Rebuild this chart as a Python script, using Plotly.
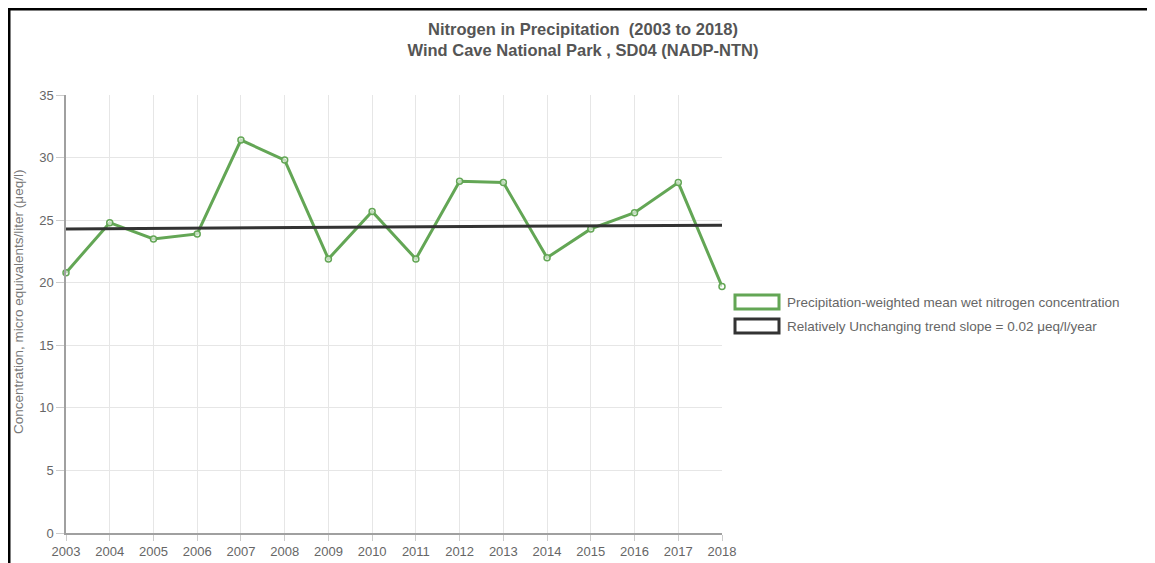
import plotly.graph_objects as go

# data
years = list(range(2003, 2019))
nitrogen = [20.8, 24.8, 23.5, 23.9, 31.4, 29.8, 21.9, 25.7, 21.9, 28.1, 28.0, 22.0, 24.3, 25.6, 28.0, 19.7]
trend_years = [2003, 2018]
trend_vals = [24.3, 24.6]

series_names = [
    "Precipitation-weighted mean wet nitrogen concentration",
    "Relatively Unchanging trend slope = 0.02 \u03bceq/l/year",
]

GREEN = "#63a655"
DARK = "#333333"
GREY_TXT = "#666666"
FONT = "Liberation Sans, Arial, sans-serif"

# page body adds an 8px margin, so the figure is a bit smaller than the window
OFF = 8
W, H = 1155 - OFF, 563 - OFF
L, R, T, B = 66 - OFF, 722 - OFF, 95 - OFF, 533 - OFF


def px_x(p):
    return (p - L) / (R - L)


def px_y(p):
    return (B - p) / (B - T)


fig = go.Figure()

fig.add_trace(go.Scatter(
    x=years, y=nitrogen, mode="lines+markers", name=series_names[0],
    line=dict(color=GREEN, width=3),
    marker=dict(size=6, color="rgba(255,255,255,0.6)", line=dict(color=GREEN, width=1.5)),
    cliponaxis=False, showlegend=False,
))
fig.add_trace(go.Scatter(
    x=trend_years, y=trend_vals, mode="lines", name=series_names[1],
    line=dict(color=DARK, width=3),
    cliponaxis=False, showlegend=False,
))

# frame edges visible in the screenshot
fig.add_shape(type="line", xref="paper", yref="paper",
              x0=px_x(1), x1=px_x(1), y0=px_y(0), y1=px_y(H + 5),
              line=dict(color="black", width=3))
fig.add_shape(type="line", xref="paper", yref="paper",
              x0=px_x(0), x1=px_x(W + 5), y0=px_y(1), y1=px_y(1),
              line=dict(color="black", width=3))

# chart.js style legend boxes
legend_rows = [(302 - OFF, GREEN), (326 - OFF, DARK)]
for (cy, col), name in zip(legend_rows, series_names):
    fig.add_shape(type="rect", xref="paper", yref="paper",
                  x0=px_x(735 - OFF), x1=px_x(779 - OFF), y0=px_y(cy - 7), y1=px_y(cy + 7),
                  line=dict(color=col, width=3), fillcolor="white")
    fig.add_annotation(text=name, xref="paper", yref="paper",
                       x=px_x(785 - OFF), y=px_y(cy), xanchor="left", yanchor="middle",
                       showarrow=False, font=dict(size=13.5, color=GREY_TXT, family=FONT))

# y axis title
fig.add_annotation(text="Concentration, micro equivalents/liter (\u03bceq/l)",
                   xref="paper", yref="paper", x=px_x(18 - OFF), y=px_y(302 - OFF),
                   xanchor="center", yanchor="middle", textangle=-90, showarrow=False,
                   font=dict(size=13.5, color="#777777", family=FONT))

fig.update_layout(
    width=W, height=H,
    margin=dict(l=L, r=W - R, t=T, b=H - B),
    paper_bgcolor="white", plot_bgcolor="white",
    font=dict(family=FONT, color=GREY_TXT, size=13),
    title=dict(
        text="Nitrogen in Precipitation  (2003 to 2018)<br>Wind Cave National Park , SD04 (NADP-NTN)",
        x=(583 - OFF) / W, xanchor="center",
        y=1 - (35 - OFF) / H, yanchor="middle",
        font=dict(size=16.5, color="#555555", family=FONT, weight="bold"),
    ),
    showlegend=False,
)

fig.update_xaxes(
    range=[2003, 2018], tickmode="linear", tick0=2003, dtick=1,
    showgrid=True, gridcolor="#e6e6e6", gridwidth=1,
    showline=True, linecolor="#a0a0a0", linewidth=1.5,
    ticks="outside", ticklen=6, tickcolor="#cccccc",
    tickfont=dict(size=13, color=GREY_TXT), zeroline=False, automargin=False,
)
fig.update_yaxes(
    range=[0, 35], tickmode="linear", tick0=0, dtick=5,
    showgrid=True, gridcolor="#e6e6e6", gridwidth=1,
    showline=True, linecolor="#a0a0a0", linewidth=1.5,
    ticks="outside", ticklen=8, tickcolor="#cccccc",
    tickfont=dict(size=13, color=GREY_TXT), zeroline=False, automargin=False,
)

fig.write_html("out.html")
